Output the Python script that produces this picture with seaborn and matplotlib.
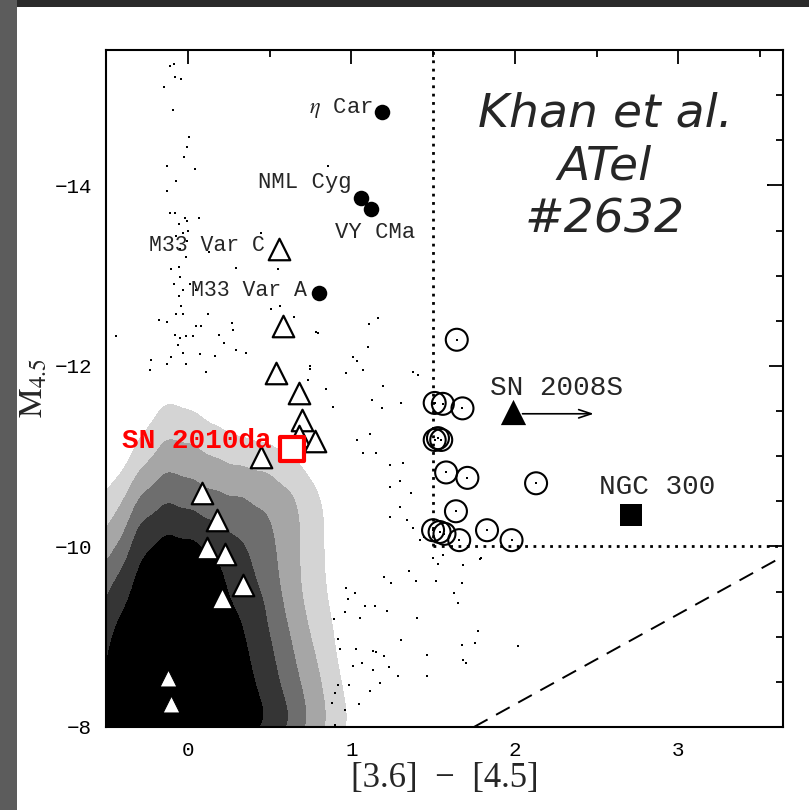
import numpy as np
import pandas as pd
import matplotlib
matplotlib.use("Agg")
import matplotlib.pyplot as plt
from matplotlib.patches import Rectangle
from matplotlib.ticker import MultipleLocator
import seaborn as sns

# ---------------- data ----------------
# relative star density of the background field (columns = colour, rows = magnitude)
grid_x = [-0.575, -0.425, -0.275, -0.125, 0.025, 0.175, 0.325, 0.475, 0.625, 0.775, 0.925, 1.075, 1.225, 1.375]
grid_y = [-7.875, -8.125, -8.375, -8.625, -8.875, -9.125, -9.375, -9.625, -9.875, -10.125,
          -10.375, -10.625, -10.875, -11.125, -11.375, -11.625, -11.875, -12.125, -12.375]
grid_density = [
    [6, 8, 10, 10, 10, 10, 8, 6, 4, 2.2, 1, 0.3, 0.1, 0],
    [6, 8, 10, 10, 10, 10, 8, 6, 4, 2.2, 1, 0.3, 0.1, 0],
    [5.5, 8, 10, 10, 10, 9.5, 7.5, 5.5, 3.5, 2, 0.8, 0.3, 0.1, 0],
    [5, 7.5, 10, 10, 10, 9, 7, 5, 3, 1.7, 0.7, 0.3, 0.1, 0],
    [4.5, 7, 10, 10, 10, 8.5, 6.5, 4.5, 2.7, 1.5, 0.6, 0.3, 0.1, 0],
    [4, 6, 9.5, 10, 10, 8, 6, 4, 2.5, 1.3, 0.6, 0.2, 0.1, 0],
    [3.5, 5, 8, 10, 10, 7, 5.5, 4, 2.2, 1.1, 0.5, 0.2, 0.1, 0.05],
    [3, 4, 7, 9, 9, 6.5, 5, 3.5, 2, 1, 0.5, 0.2, 0.1, 0.05],
    [2, 3, 6, 8, 7.5, 6, 4.5, 3.3, 2, 1, 0.4, 0.2, 0.1, 0.05],
    [1.5, 2, 5, 6, 5.5, 4.5, 3.8, 3, 2, 1, 0.4, 0.2, 0.1, 0.05],
    [1, 1.5, 3.5, 4.5, 4, 3.5, 3.2, 2.7, 2, 1, 0.4, 0.15, 0.1, 0.05],
    [0.5, 1, 2.5, 3.5, 3, 2.5, 2.4, 2.2, 1.6, 0.8, 0.3, 0.1, 0.05, 0],
    [0.2, 0.4, 1.5, 2.5, 2.2, 1.8, 1.6, 1.4, 1, 0.5, 0.2, 0.1, 0.05, 0],
    [0.1, 0.2, 0.9, 1.8, 1.6, 1.2, 0.9, 0.8, 0.5, 0.3, 0.1, 0.05, 0, 0],
    [0, 0.1, 0.5, 1.2, 1, 0.6, 0.4, 0.3, 0.2, 0.1, 0.05, 0, 0, 0],
    [0, 0, 0.3, 0.7, 0.5, 0.3, 0.2, 0.1, 0.1, 0.05, 0, 0, 0, 0],
    [0, 0, 0.2, 0.4, 0.3, 0.15, 0.1, 0.05, 0.05, 0, 0, 0, 0, 0],
    [0, 0, 0.1, 0.25, 0.15, 0.05, 0.05, 0, 0, 0, 0, 0, 0, 0],
    [0, 0, 0.05, 0.15, 0.1, 0, 0, 0, 0, 0, 0, 0, 0, 0],
]

# individual sparse field stars
field_x = [-0.086, -0.110, -0.080, -0.043, -0.145, -0.090, 0.006, -0.004, -0.022, -0.130, 0.047, -0.069,
           -0.130, -0.106, -0.080, -0.014, -0.002, 0.069, -0.055, 0.002, -0.032, -0.073, -0.004, -0.049,
           -0.012, 0.128, 0.446, 0.294, 0.549, -0.100, -0.053, -0.045, 0.012, -0.086, -0.032, 0.053,
           -0.053, -0.039, -0.069, -0.029, 0.124, -0.177, -0.130, 0.053, 0.084, 0.273, 0.277, 0.190,
           -0.080, -0.049, -0.008, 0.032, -0.059, 0.220, 0.297, 0.359, 0.165, -0.222, -0.100, -0.029,
           0.073, -0.130, -0.008, 0.114, -0.228, -0.440, 0.797, 0.508, 0.567, 0.650, 0.746, 0.858,
           1.684, 1.790, 1.680, 1.627, 1.653, 1.776, 1.755, 1.674, 2.020, 1.684, 1.700, 1.464, 1.464,
           1.403, 1.394, 1.517, 1.354, 1.307, 1.283, 1.242, 1.201, 1.219, 1.148, 1.083, 1.052, 0.960,
           0.977, 1.021, 0.970, 0.893, 0.919, 0.930, 1.028, 1.130, 1.150, 1.201, 1.068, 1.011, 1.130,
           1.229, 1.174, 1.113, 1.048, 0.960, 0.987, 0.919, 0.899, 0.879, 0.899,
           1.164, 1.109, 1.103, 1.011, 1.036, 1.072, 0.970, 1.195, 1.185, 1.307, 1.378, 1.409, 1.072,
           1.154, 1.235, 1.317, 1.235, 1.297, 1.368, 1.297, 1.338, 1.235, 1.378, 1.419, 1.113, 1.032,
           0.787, 0.746, 0.736, 0.848, 0.889, 1.124, 3.55, 1.443, 1.498, 1.529, 1.560, 1.682, 1.792]
field_y = [-15.34, -15.32, -15.20, -15.18, -15.09, -14.83, -14.54, -14.43, -14.32, -14.21, -14.18, -14.05,
           -13.94, -13.69, -13.69, -13.64, -13.61, -13.64, -13.57, -13.49, -13.47, -13.44, -13.38, -13.29,
           -13.21, -13.26, -13.47, -13.09, -13.07, -13.07, -13.10, -12.98, -12.91, -12.91, -12.84, -12.84,
           -12.77, -12.66, -12.57, -12.57, -12.57, -12.51, -12.49, -12.44, -12.44, -12.48, -12.40, -12.34,
           -12.34, -12.31, -12.33, -12.33, -12.23, -12.25, -12.18, -12.14, -12.11, -12.07, -12.10, -12.14,
           -12.13, -12.02, -12.02, -11.93, -11.96, -12.33, -12.37, -12.63, -12.66, -12.54, -12.00, -14.21,
           -9.79, -9.86, -9.59, -9.49, -9.37, -9.06, -8.93, -8.91, -8.90, -8.74, -8.71, -8.80, -8.56,
           -9.21, -9.62, -9.62, -9.73, -8.96, -8.57, -9.59, -9.66, -9.28, -9.34, -9.34, -9.21, -9.27,
           -9.42, -9.48, -9.54, -9.20, -8.97, -8.86, -8.86, -8.84, -8.83, -8.79, -8.71, -8.68, -8.63,
           -8.67, -8.49, -8.40, -8.25, -8.19, -8.47, -8.47, -8.38, -8.27, -8.02,
           -12.53, -12.46, -12.21, -12.10, -12.05, -11.96, -11.92, -11.78, -11.53, -11.59, -11.93, -11.90, -11.03,
           -11.03, -10.90, -10.92, -10.66, -10.73, -10.59, -10.44, -10.29, -10.33, -10.21, -10.07, -11.25, -11.18,
           -12.38, -11.97, -11.84, -11.75, -11.55, -11.62, -14.00, -10.10, -9.87, -9.81, -9.91, -9.79, -9.87]

# massive-star comparison objects (filled circles)
massive_names = ["$\\eta$ Car", "NML Cyg", "VY CMa", "M33 Var A"]
massive_x = [1.19, 1.06, 1.12, 0.80]
massive_y = [-14.81, -13.86, -13.74, -12.81]

# open triangles (M33 / LBV type objects)
tri_x = [0.557, 0.58, 0.54, 0.68, 0.70, 0.68, 0.78, 0.45, 0.086, 0.18, 0.12, 0.23, 0.34, 0.21]
tri_y = [-13.29, -12.44, -11.92, -11.70, -11.40, -11.22, -11.17, -10.99, -10.59, -10.29, -9.98, -9.92, -9.57, -9.43]

# white triangles inside the dense cloud
wtri_x = [-0.12, -0.10]
wtri_y = [-8.54, -8.26]

# open circles (extreme-AGB candidates)
circ_x = [1.645, 1.51, 1.56, 1.68, 1.53, 1.55, 1.51, 1.58, 1.71, 2.13, 1.64, 1.54, 1.50, 1.57, 1.66, 1.83, 1.98]
circ_y = [-12.29, -11.59, -11.58, -11.53, -11.20, -11.18, -11.18, -10.82, -10.76, -10.70, -10.39,
          -10.16, -10.18, -10.14, -10.07, -10.18, -10.07]

# transients
sn2008s_x, sn2008s_y = [1.99], [-11.49]
sn2008s_arrow_to = 2.50
ngc300_x, ngc300_y = [2.71], [-10.35]
sn2010da_x, sn2010da_y = [0.64], [-11.08]

# selection boundaries
cut_color = 1.5
cut_mag = -10.0
dashed_x = [1.75, 3.64]
dashed_y = [-8.0, -9.89]

xlim = (-0.5, 3.64)
ylim = (-8.0, -15.5)

# ---------------- figure ----------------
sns.set_style("white")
plt.rcParams["font.family"] = ["DejaVu Sans"]
plt.rcParams["mathtext.fontset"] = "stix"

fig = plt.figure(figsize=(8.09, 8.10), dpi=100)
fig.patch.set_facecolor("#3e3e3e")
fig.add_artist(Rectangle((0, (810 - 7) / 810), 1, 7 / 810, transform=fig.transFigure,
                         facecolor="#2a2a2a", edgecolor="none", zorder=-6))
fig.add_artist(Rectangle((0, 0), 17 / 809, 1, transform=fig.transFigure,
                         facecolor="#5c5c5c", edgecolor="none", zorder=-6))
fig.add_artist(Rectangle((17 / 809, 0), 1, (810 - 7) / 810, transform=fig.transFigure,
                         facecolor="white", edgecolor="none", zorder=-5))
ax = fig.add_axes([106 / 809, 1 - 727 / 810, (783 - 106) / 809, (727 - 50) / 810])
ax.set_facecolor("white")

# dense background cloud
gx, gy = np.meshgrid(grid_x, grid_y)
dens = pd.DataFrame({"x": gx.ravel(), "y": gy.ravel(), "w": np.asarray(grid_density, float).ravel()})
dens = dens[dens["w"] > 0]
sns.kdeplot(x=dens["x"].values, y=dens["y"].values, weights=dens["w"].values, fill=True,
            bw_adjust=0.45, color="black",
            levels=[0.04, 0.09, 0.17, 0.28, 0.45, 1.0],
            colors=["#d4d4d4", "#a6a6a6", "#6e6e6e", "#353535", "#000000"],
            ax=ax, zorder=1)

# sparse field stars and the stars at circle centres
sns.scatterplot(x=field_x + circ_x, y=field_y + circ_y, s=4, marker="s", color="black",
                linewidth=0, ax=ax, zorder=2)

# selection boundaries
ax.plot([cut_color, cut_color], [cut_mag, ylim[1]], color="black", lw=2, ls=(0, (1, 2)), zorder=3)
ax.plot([cut_color, xlim[1]], [cut_mag, cut_mag], color="black", lw=2, ls=(0, (1, 2)), zorder=3)
ax.plot(dashed_x, dashed_y, color="black", lw=1.4, ls=(0, (8, 5)), zorder=3)

# symbols
sns.scatterplot(x=circ_x, y=circ_y, s=250, marker="o", facecolor="none", edgecolor="black",
                linewidth=1.5, ax=ax, zorder=4)
sns.scatterplot(x=tri_x, y=tri_y, s=240, marker="^", facecolor="white", edgecolor="black",
                linewidth=1.6, ax=ax, zorder=5)
sns.scatterplot(x=wtri_x, y=wtri_y, s=150, marker="^", facecolor="white", edgecolor="black",
                linewidth=0.8, ax=ax, zorder=5)
sns.scatterplot(x=massive_x, y=massive_y, s=125, marker="o", color="black", linewidth=0,
                ax=ax, zorder=5)
sns.scatterplot(x=sn2008s_x, y=sn2008s_y, s=330, marker="^", color="black", linewidth=0,
                ax=ax, zorder=5)
sns.scatterplot(x=ngc300_x, y=ngc300_y, s=260, marker="s", color="black", linewidth=0,
                ax=ax, zorder=5)
sns.scatterplot(x=sn2010da_x, y=sn2010da_y, s=290, marker="s", facecolor="white", edgecolor="#ff0000",
                linewidth=3, ax=ax, zorder=6)

ax.annotate("", xy=(sn2008s_arrow_to, sn2008s_y[0] + 0.02), xytext=(sn2008s_x[0] + 0.04, sn2008s_y[0] + 0.02),
            arrowprops=dict(arrowstyle="->,head_length=0.9,head_width=0.3", lw=1.2, color="black"),
            zorder=6)

# labels
mono = "Liberation Mono"
ax.text(1.131, -14.80, massive_names[0], family=mono, fontsize=16, ha="right", va="baseline", zorder=7)
ax.text(1.003, -13.967, massive_names[1], family=mono, fontsize=16, ha="right", va="baseline", zorder=7)
ax.text(0.899, -13.42, massive_names[2], family=mono, fontsize=16, ha="left", va="baseline", zorder=7)
ax.text(0.471, -13.27, "M33 Var C", family=mono, fontsize=15.5, ha="right", va="baseline", zorder=7)
ax.text(0.728, -12.78, massive_names[3], family=mono, fontsize=15.5, ha="right", va="baseline", zorder=7)
ax.text(2.257, -11.68, "SN 2008S", family=mono, fontsize=20, ha="center", va="baseline", zorder=7)
ax.text(2.869, -10.58, "NGC 300", family=mono, fontsize=20, ha="center", va="baseline", zorder=7)
ax.text(0.514, -11.09, "SN 2010da", family=mono, fontsize=20, fontweight="bold", color="#ff0000",
        ha="right", va="baseline", zorder=7)

ax.text(0.737, 0.827, "Khan et al.\nATel\n#2632", transform=ax.transAxes, family="DejaVu Sans",
        style="italic", fontsize=34, ha="center", va="center", multialignment="center",
        linespacing=1.22, zorder=7)

# axes
ax.set_xlim(*xlim)
ax.set_ylim(*ylim)
ax.xaxis.set_major_locator(MultipleLocator(1))
ax.xaxis.set_minor_locator(MultipleLocator(0.5))
ax.yaxis.set_major_locator(MultipleLocator(2))
ax.yaxis.set_minor_locator(MultipleLocator(0.5))
ax.tick_params(which="both", direction="in", top=True, right=True, width=1.3, colors="black")
ax.tick_params(which="major", length=10)
ax.tick_params(which="minor", length=5)
ax.tick_params(axis="x", which="major", pad=10)
ax.tick_params(axis="y", which="major", pad=10)
for lab in ax.get_xticklabels() + ax.get_yticklabels():
    lab.set_family(mono)
    lab.set_fontsize(15)
for sp in ax.spines.values():
    sp.set_color("black")
    sp.set_linewidth(1.5)
    sp.set_zorder(10)

ax.set_xlabel("[3.6]  \u2212  [4.5]", family="Liberation Serif", fontsize=25)
ax.xaxis.set_label_coords(0.5, -0.052)
ax.set_ylabel(r"$\mathrm{M}_{4.5}$", fontsize=24, labelpad=4)

fig.savefig("out.png", dpi=100, facecolor=fig.get_facecolor())
